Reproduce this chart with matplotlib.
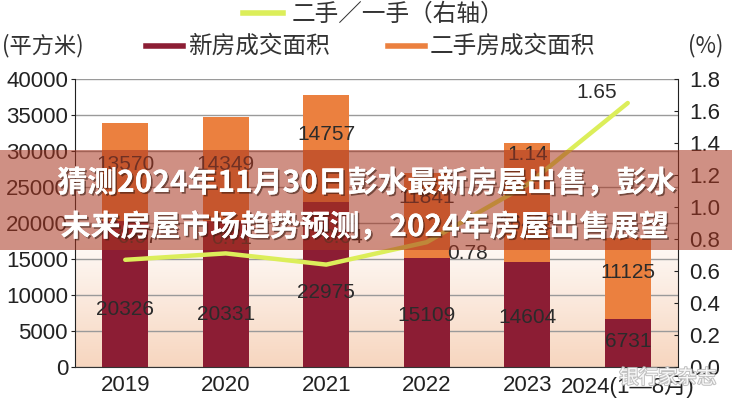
import numpy as np
import matplotlib
matplotlib.use('Agg')
import matplotlib.pyplot as plt
import matplotlib.patheffects as pe
from matplotlib.lines import Line2D
from matplotlib.patches import Rectangle
from matplotlib.colors import LinearSegmentedColormap

plt.rcParams['font.family'] = ['Noto Sans CJK SC', 'DejaVu Sans']

years = ['2019', '2020', '2021', '2022', '2023', '2024(1—8月)']
new_area = [20326, 20331, 22975, 15109, 14604, 6731]
second_area = [13570, 14349, 14757, 11841, 16483, 11125]
ratio = [0.67, 0.71, 0.64, 0.78, 1.14, 1.65]

# where the value labels sit inside each segment (fraction of segment height)
new_lab_frac = [0.39, 0.36, 0.45, 0.47, 0.47, 0.52]
sec_lab_frac = [0.57, 0.54, 0.63, 0.71, 0.32, 0.57]
# offsets of the ratio labels (pixels)
ratio_off = [(12, 22), (6, 15), (16, 27), (41, -11), (0, 30), (-31, 10)]

c_new = '#8C1D34'
c_sec = '#EB803F'
c_line = '#DCEE5A'

fig = plt.figure(figsize=(7.32, 4.0), dpi=100)
ax = fig.add_axes([75/732, 1-367/400, 603/732, 288/400])
x = np.arange(len(years))

# soft peach gradient behind the bars
grad = np.linspace(0, 1, 256).reshape(-1, 1)
cmap = LinearSegmentedColormap.from_list('bg', ['#FFFFFF', '#FFFFFF', '#F7D6BF'])
ax.imshow(grad, aspect='auto', cmap=cmap, extent=[0, 1, 0, 1],
          transform=ax.transAxes, zorder=0, origin='upper')

ax.bar(x, new_area, width=0.46, color=c_new, zorder=2)
ax.bar(x, second_area, width=0.46, bottom=new_area, color=c_sec, zorder=2)

for i in range(len(x)):
    ax.text(x[i], new_area[i]*new_lab_frac[i], str(new_area[i]), ha='center', va='center',
            fontsize=15, color='#2b2b2b', family='Liberation Sans', zorder=3)
    ax.text(x[i], new_area[i] + second_area[i]*sec_lab_frac[i], str(second_area[i]),
            ha='center', va='center', fontsize=15, color='#2b2b2b',
            family='Liberation Sans', zorder=3)

ax.set_xlim(-0.5, 5.5)
ax.set_ylim(0, 40000)
ax.set_yticks(range(0, 40001, 5000))
ax.set_xticks(x)
ax.set_xticklabels(years)
ax.tick_params(axis='x', length=0, pad=6, labelsize=16, colors='#222222')
ax.tick_params(axis='y', direction='out', length=3, labelsize=16, colors='#222222', pad=2)
for lab in ax.get_xticklabels() + ax.get_yticklabels():
    lab.set_family(['Liberation Sans', 'Noto Sans CJK SC'])
ax.grid(axis='y', color='#9a9a9a', linewidth=1, zorder=1)
ax.set_axisbelow(True)
ax.spines['top'].set_visible(False)
ax.spines['right'].set_visible(False)
ax.spines['left'].set_color('#222222')
ax.spines['bottom'].set_color('#333333')

ax2 = ax.twinx()
ax2.set_ylim(0, 1.8)
ax2.set_yticks(np.arange(0, 1.81, 0.2))
ax2.set_yticklabels(['%.1f' % v for v in np.arange(0, 1.81, 0.2)])
ax2.tick_params(axis='y', direction='in', length=3, labelsize=16, colors='#222222', pad=8)
for lab in ax2.get_yticklabels():
    lab.set_family('Liberation Sans')
ax2.spines['right'].set_color('#222222')
ax2.spines['top'].set_visible(False)
ax2.spines['left'].set_visible(False)
ax2.spines['bottom'].set_visible(False)
ax2.plot(x, ratio, color=c_line, linewidth=3.2, solid_capstyle='round', zorder=4)
for i in range(len(x)):
    ax2.annotate('%.2f' % ratio[i], (x[i], ratio[i]), xytext=ratio_off[i],
                 textcoords='offset pixels', ha='center', va='center',
                 fontsize=15, color='#2b2b2b', family='Liberation Sans')

# legend + unit labels
fig.add_artist(Line2D([243/732, 283/732], [1-13/400]*2, color=c_line, linewidth=4))
fig.text(292/732, 1-14/400, '二手／一手（右轴）', fontsize=17, va='center', color='#333333')
fig.add_artist(Line2D([146/732, 183/732], [1-46/400]*2, color=c_new, linewidth=4))
fig.text(188/732, 1-46/400, '新房成交面积', fontsize=17, va='center', color='#333333')
fig.add_artist(Line2D([388/732, 425/732], [1-46/400]*2, color=c_sec, linewidth=4))
fig.text(430/732, 1-46/400, '二手房成交面积', fontsize=17, va='center', color='#333333')
fig.text(2/732, 1-46/400, '(平方米)', fontsize=16, va='center', color='#333333')
fig.text(688/732, 1-46/400, '(%)', fontsize=16, va='center', color='#333333')

# title banner
fig.add_artist(Rectangle((0, 1-250/400), 1, 100/400, transform=fig.transFigure,
                         facecolor='#A8351F', alpha=0.55, edgecolor='none', zorder=10))
shadow = [pe.withSimplePatchShadow(offset=(1.2, -1.2), shadow_rgbFace='#3a1a10', alpha=0.6), pe.Normal()]
fig.text(367/732, 1-183/400, '猜测2024年11月30日彭水最新房屋出售，彭水', fontsize=21.5,
         fontweight='bold', color='white', ha='center', va='center', zorder=11,
         path_effects=shadow)
fig.text(365/732, 1-227/400, '未来房屋市场趋势预测，2024年房屋出售展望', fontsize=21.5,
         fontweight='bold', color='white', ha='center', va='center', zorder=11,
         path_effects=shadow)

fig.text(668/732, 1-378/400, '银行家杂志', fontsize=14, color='white', ha='center',
         va='center', alpha=0.9, zorder=12,
         path_effects=[pe.withStroke(linewidth=1.5, foreground='#bbbbbb')])

fig.savefig('out.png', dpi=100)
